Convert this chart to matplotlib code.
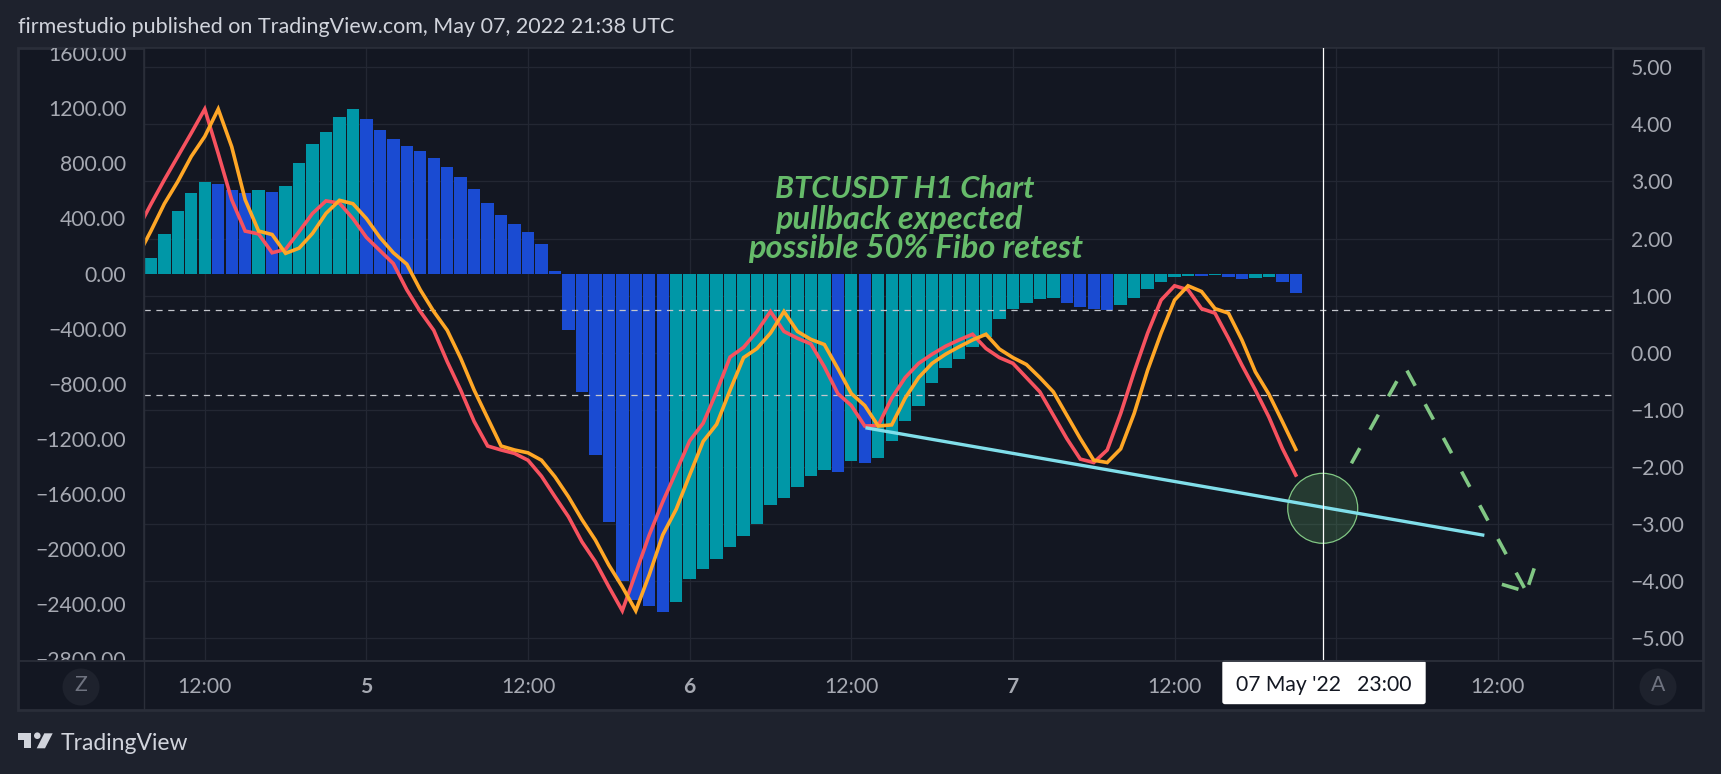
import matplotlib
matplotlib.use("Agg")
import matplotlib.pyplot as plt
from matplotlib.patches import Rectangle, Circle, Ellipse, Polygon, FancyBboxPatch
from matplotlib.transforms import Bbox

W, H = 1721, 774

# histogram, one bar per hour, hours counted from May 4 00:00
bar_start = 8
hist_values = [116, 290, 457, 581, 661, 653, 610, 588, 610, 595, 639, 799, 944, 1031, 1133, 1191,
               1125, 1045, 980, 929, 886, 842, 777, 704, 617, 515, 428, 363, 305, 211, 15,
               -411, -862, -1319, -1805, -2234, -2372, -2415, -2459, -2386, -2219, -2147, -2074,
               -1987, -1907, -1820, -1682, -1631, -1551, -1471, -1428, -1442, -1362, -1377, -1341,
               -1217, -1072, -963, -796, -687, -622, -535, -460, -332, -259, -215, -186, -179,
               -215, -244, -259, -266, -230, -179, -114, -63, -27, -19, -19, -12, -27, -41, -34,
               -27, -63, -143]
# B = blue bar, T = teal bar
hist_kinds = "TTTTT" + "BBB" + "T" + "B" + "TTTTTT" + "BBBBBBBBBBBBBBB" + "BBBBBBBB" + \
             "TTTTTTTTTTTT" + "B" + "T" + "B" + "TTTTTTTTTTTTTT" + "BBBB" + "TTTTTT" + "B" + "T" + "BB" + "TT" + "BB"

line_start = 7
red_line = [2.15, 2.60, 3.03, 3.44, 3.85, 4.27, 3.49, 2.68, 2.13, 2.08, 1.75, 1.81, 2.12, 2.44, 2.66,
            2.62, 2.35, 2.02, 1.79, 1.56, 1.10, 0.72, 0.39, -0.16, -0.66, -1.21, -1.64, -1.71, -1.77,
            -1.89, -2.17, -2.53, -2.88, -3.32, -3.67, -4.11, -4.53, -3.87, -3.20, -2.62, -2.09, -1.55,
            -1.24, -0.69, -0.08, 0.09, 0.37, 0.72, 0.37, 0.25, 0.15, -0.25, -0.72, -0.93, -1.29, -1.28,
            -0.80, -0.44, -0.19, -0.03, 0.11, 0.22, 0.32, 0.07, -0.09, -0.19, -0.44, -0.69, -1.10, -1.51,
            -1.87, -1.93, -1.71, -1.07, -0.34, 0.34, 0.92, 1.17, 1.10, 0.77, 0.69, 0.25, -0.22, -0.66,
            -1.13, -1.68, -2.15]
orange_line = [1.68, 2.13, 2.61, 3.00, 3.44, 3.79, 4.27, 3.61, 2.68, 2.13, 2.07, 1.74, 1.83, 2.09, 2.44,
               2.67, 2.61, 2.35, 2.02, 1.75, 1.55, 1.10, 0.72, 0.39, -0.10, -0.66, -1.15, -1.64, -1.71,
               -1.76, -1.89, -2.18, -2.53, -2.93, -3.29, -3.73, -4.11, -4.53, -3.90, -3.20, -2.75, -2.15,
               -1.56, -1.26, -0.66, -0.09, 0.07, 0.34, 0.72, 0.37, 0.23, 0.14, -0.28, -0.72, -0.93, -1.29,
               -1.27, -0.80, -0.44, -0.19, -0.03, 0.10, 0.22, 0.32, 0.06, -0.09, -0.21, -0.44, -0.69, -1.10,
               -1.51, -1.89, -1.93, -1.69, -1.07, -0.31, 0.34, 0.92, 1.17, 1.07, 0.77, 0.69, 0.22, -0.34,
               -0.73, -1.21, -1.70]

trend_h = [61.05, 107]
trend_v = [-1.32, -3.207]
arrow_h = [97.13, 101.1, 110.12]
arrow_v = [-1.944, -0.249, -4.196]
wing_left_h = [108.3, 110.12]
wing_left_v = [-4.067, -4.196]
wing_right_h = [110.12, 110.7]
wing_right_v = [-4.196, -3.787]
levels = [0.75, -0.75]
cursor_h = 95
circle_v = -2.733

x_ticks = [12, 24, 36, 48, 60, 72, 84, 96, 108]
x_labels = ["12:00", "5", "12:00", "6", "12:00", "7", "12:00", "", "12:00"]
left_ticks = [1600, 1200, 800, 400, 0, -400, -800, -1200, -1600, -2000, -2400, -2800]
right_ticks = [5, 4, 3, 2, 1, 0, -1, -2, -3, -4, -5]

OUTER = "#1e222d"
PANE = "#131722"
BORDER = "#2a2e39"
GRID = "#232733"
TICK = "#a6a9b2"
TEAL = "#0097a7"
BLUE = "#1a4bd2"
RED = "#f7525f"
ORANGE = "#ffa726"
CYAN = "#80deea"
GREEN = "#66bb6a"
LIGHT_GREEN = "#81c784"
FONT = "Lato"

plt.rcParams["font.family"] = FONT


def px_x(x):
    return x / W


def px_y(y):
    return 1 - y / H


fig = plt.figure(figsize=(W / 100, H / 100), dpi=100, facecolor=OUTER)

# outer frame, behind the axes
fig.add_artist(Rectangle((px_x(18), px_y(710)), px_x(1685), 662 / H, transform=fig.transFigure,
                         facecolor=PANE, edgecolor=BORDER, linewidth=2, zorder=-1))

L, R, T, B = 143.7, 1613.4, 48, 661
pos = [px_x(L), px_y(B), (R - L) / W, (B - T) / H]
xlim = (7.467, 116.58)
TS = 15.2

ax = fig.add_axes(pos, facecolor=PANE)
ax.set_xlim(xlim)
ax.set_ylim(-5.412, 5.342)
ax.set_xticks(x_ticks)
ax.set_xticklabels(x_labels, fontsize=TS, color=TICK)
for lab, txt in zip(ax.get_xticklabels(), x_labels):
    if len(txt) == 1:
        lab.set_fontweight("bold")
ax.tick_params(axis="x", length=0, pad=11.5)
ax.grid(True, color=GRID, linewidth=0.9)
ax.set_axisbelow(True)
for s in ax.spines.values():
    s.set_color(BORDER)
    s.set_linewidth(1.2)

# bars use the left scale
ax_left = ax.twinx()
ax_left.set_ylim(-2814, 1637.6)
ax_left.yaxis.tick_left()
ax_left.set_yticks(left_ticks)
ax_left.set_yticklabels([f"{v:.2f}".replace("-", "\u2212") for v in left_ticks], fontsize=TS, color=TICK)
ax_left.tick_params(axis="y", length=0, pad=12.5)
ax_left.patch.set_visible(False)
for s in ax_left.spines.values():
    s.set_visible(False)
hours = [bar_start + i for i in range(len(hist_values))]
colors = [TEAL if k == "T" else BLUE for k in hist_kinds]
ax_left.bar(hours, hist_values, width=0.92, color=colors, linewidth=0)

# left labels get cut by the pane edges
clip = Bbox([[18, H - B], [L, H - T]])
for lab in ax_left.get_yticklabels():
    lab.set_clip_on(True)
    lab.set_clip_box(clip)

# lines use the right scale again, on top of the bars
ax_top = ax.twinx()
ax_top.set_ylim(ax.get_ylim())
ax_top.set_yticks([])
ax_top.patch.set_visible(False)
for s in ax_top.spines.values():
    s.set_visible(False)

# twinx moves the base axis ticks to the left, so set the right scale here
ax.yaxis.tick_right()
ax.set_yticks(right_ticks)
ax.set_yticklabels([f"{v:.2f}".replace("-", "\u2212") for v in right_ticks], fontsize=TS, color=TICK)
ax.tick_params(axis="y", length=0, pad=12.5)

for lv in levels:
    ax_top.axhline(lv, color="#c3c6cc", linewidth=0.9, linestyle=(0, (5, 4.5)))

ax_top.add_patch(Ellipse((cursor_h, circle_v), 70 / 13.47, 70 / 57, facecolor=GREEN, alpha=0.22, edgecolor="none"))
ax_top.add_patch(Ellipse((cursor_h, circle_v), 70 / 13.47, 70 / 57, facecolor="none", edgecolor=LIGHT_GREEN,
                         linewidth=0.9))

hours_line = [line_start + i for i in range(len(red_line))]
ax_top.plot(hours_line, red_line, color=RED, linewidth=2.6, solid_joinstyle="miter")
ax_top.plot(hours_line, orange_line, color=ORANGE, linewidth=2.6, solid_joinstyle="miter")
ax_top.plot(trend_h, trend_v, color=CYAN, linewidth=2.4, solid_capstyle="butt")

dash = (0, (4.8, 5.8))
ax_top.plot(arrow_h, arrow_v, color=LIGHT_GREEN, linewidth=2.6, linestyle=dash, dash_capstyle="butt")
ax_top.plot(wing_left_h, wing_left_v, color=LIGHT_GREEN, linewidth=2.6, linestyle=dash, dash_capstyle="butt")
ax_top.plot(wing_right_h[::-1], wing_right_v[::-1], color=LIGHT_GREEN, linewidth=2.6, linestyle=dash,
            dash_capstyle="butt")
ax_top.axvline(cursor_h, color="white", linewidth=0.9)

# panel separators under the axis row and beside the scales
for xs in (L, R):
    fig.add_artist(plt.Line2D([px_x(xs)] * 2, [px_y(710), px_y(48)], color=BORDER, linewidth=1))
fig.add_artist(plt.Line2D([px_x(18), px_x(1703)], [px_y(B)] * 2, color=BORDER, linewidth=1.3))

# date label on the crosshair
fig.add_artist(FancyBboxPatch((1223, H - 703.5), 202, 42.5, transform=None,
                              boxstyle="round,pad=0,rounding_size=2", facecolor="white", edgecolor="white",
                              linewidth=1))
fig.text(px_x(1324), px_y(685), "07 May '22   23:00", color="#131722", fontsize=TS, ha="center", va="center")

# Z and A buttons
for cx, letter in ((81, "Z"), (1658, "A")):
    fig.add_artist(Circle((cx, H - 687), 18.5, transform=None, facecolor="#1e222d", edgecolor="none"))
    fig.text(px_x(cx), px_y(685), letter, color="#6f7380", fontsize=TS, ha="center", va="center")

fig.text(px_x(18), px_y(27), "firmestudio published on TradingView.com, May 07, 2022 21:38 UTC",
         color="#d1d4dc", fontsize=15.5, ha="left", va="center")

# annotation, three lines placed by hand
fig.text(px_x(775), px_y(198.5), "BTCUSDT H1 Chart", color=GREEN, fontsize=22.2, style="italic",
         fontweight="bold", ha="left", va="baseline")
fig.text(px_x(775), px_y(228.5), "pullback expected", color=GREEN, fontsize=23.3, style="italic",
         fontweight="bold", ha="left", va="baseline")
fig.text(px_x(748), px_y(258), "possible 50% Fibo retest", color=GREEN, fontsize=23.5, style="italic",
         fontweight="bold", ha="left", va="baseline")

# TradingView logo
LOGO = "#d1d4dc"
logo_t = [(18.3, 733.3), (31, 733.3), (31, 748.3), (24.3, 748.3), (24.3, 740), (18.3, 740)]
logo_slant = [(44.3, 733.3), (52.7, 733.3), (45, 748.3), (36.7, 748.3)]
for shape in (logo_t, logo_slant):
    fig.add_artist(Polygon([(x, H - y) for x, y in shape], closed=True, transform=None, facecolor=LOGO,
                           edgecolor="none"))
fig.add_artist(Circle((37.3, H - 735.7), 3.3, transform=None, facecolor=LOGO, edgecolor="none"))
fig.text(px_x(60.5), px_y(743), "TradingView", color=LOGO, fontsize=16.5, ha="left", va="center")

fig.savefig("out.png", dpi=100, facecolor=OUTER)
